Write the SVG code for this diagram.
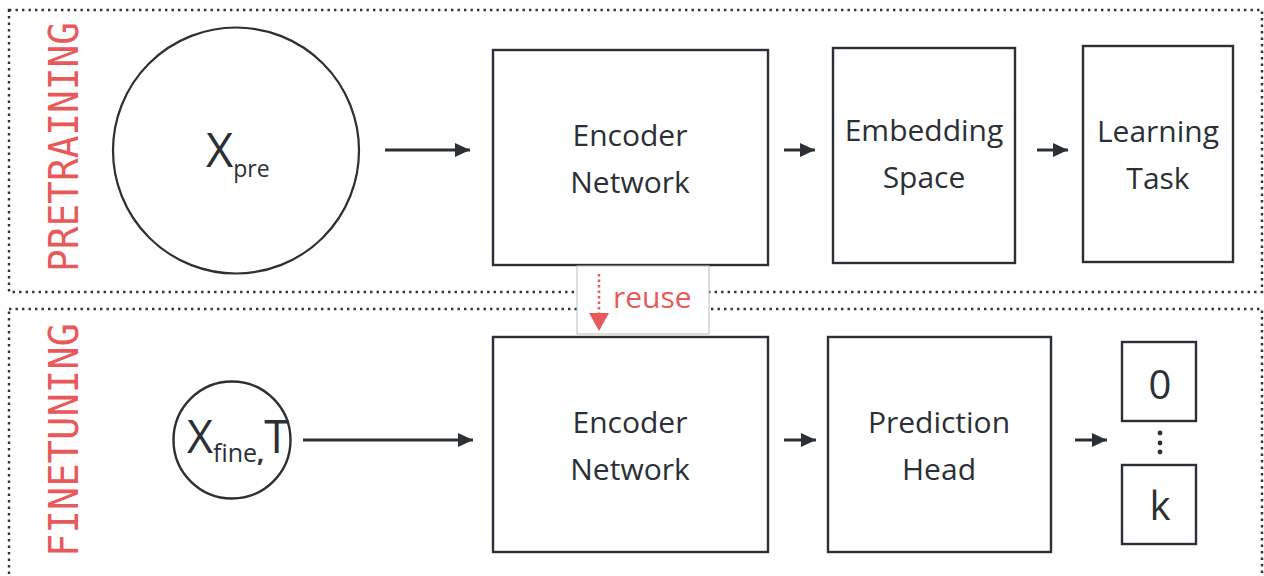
<svg xmlns="http://www.w3.org/2000/svg" width="1264" height="576" viewBox="0 0 1264 576">
<style>
.dot{fill:none;stroke:#333;stroke-width:2.4;stroke-dasharray:2.4 4.1}
.box{fill:#fff;stroke:#2b3036;stroke-width:2.4}
.t{font-family:"Open Sans","Noto Sans",sans-serif;font-size:30px;fill:#2b3036;text-anchor:middle}
.lbl{font-family:"DejaVu Sans Mono","Liberation Mono",monospace;font-size:40px;fill:#e85a5a}
.c{stroke:#2b3036;stroke-width:3;fill:none}
</style>
<defs>
<marker id="arr" markerWidth="18" markerHeight="16" refX="15" refY="8" orient="auto" markerUnits="userSpaceOnUse">
<path d="M0,1 L15,8 L0,15 z" fill="#2b3036"/>
</marker>
</defs>
<g id="sections">
<rect class="dot" x="9" y="10" width="1253" height="282"/>
<rect class="dot" x="9" y="309" width="1253" height="290"/>
<text class="lbl" transform="translate(78,272) rotate(-90)" textLength="250" lengthAdjust="spacingAndGlyphs">PRETRAINING</text>
<text class="lbl" transform="translate(78,557) rotate(-90)" textLength="234" lengthAdjust="spacingAndGlyphs">FINETUNING</text>
</g>
<g id="connectors">
<line class="c" x1="385" y1="150" x2="470" y2="150" marker-end="url(#arr)"/>
<line class="c" x1="784" y1="150" x2="815" y2="150" marker-end="url(#arr)"/>
<line class="c" x1="1037" y1="150" x2="1068" y2="150" marker-end="url(#arr)"/>
<line class="c" x1="303" y1="440" x2="473" y2="440" marker-end="url(#arr)"/>
<line class="c" x1="784" y1="440" x2="816" y2="440" marker-end="url(#arr)"/>
<line class="c" x1="1075" y1="440" x2="1107" y2="440" marker-end="url(#arr)"/>
</g>
<g id="xpre">
<circle cx="236" cy="150.5" r="123" fill="#fff" stroke="#2b3036" stroke-width="2.2"/>
<text x="206" y="167" font-family="Open Sans,sans-serif" font-size="47" fill="#2b3036">X<tspan font-size="23" dy="10">pre</tspan></text>
</g>
<g id="enc-pre">
<rect class="box" x="493" y="50" width="275" height="215"/>
<text class="t" x="630" y="146">Encoder</text>
<text class="t" x="630" y="193">Network</text>
</g>
<g id="embedding">
<rect class="box" x="833" y="48" width="182" height="215"/>
<text class="t" x="924" y="141">Embedding</text>
<text class="t" x="924" y="188">Space</text>
</g>
<g id="task">
<rect class="box" x="1083" y="46" width="150" height="216"/>
<text class="t" x="1158" y="142">Learning</text>
<text class="t" x="1158" y="189">Task</text>
</g>
<g id="reuse">
<rect x="577" y="266" width="132" height="68" fill="#fff" stroke="#bbb" stroke-width="1"/>
<line x1="599" y1="274" x2="599" y2="313" stroke="#e85a5a" stroke-width="2.5" stroke-dasharray="2.5 3"/>
<path d="M589,313 L609,313 L599,331 z" fill="#e85a5a"/>
<text x="613" y="308" font-family="Open Sans,sans-serif" font-size="30" fill="#e85a5a">reuse</text>
</g>
<g id="xfine">
<circle cx="232" cy="440" r="58.5" fill="#fff" stroke="#2b3036" stroke-width="2.4"/>
<text x="187" y="453" font-family="Open Sans,sans-serif" font-size="45" fill="#2b3036">X<tspan font-size="25" dy="9">fine</tspan><tspan font-size="25" font-weight="bold">,</tspan><tspan dy="-9" font-size="45">T</tspan></text>
</g>
<g id="enc-fine">
<rect class="box" x="493" y="337" width="275" height="215"/>
<text class="t" x="630" y="433">Encoder</text>
<text class="t" x="630" y="480">Network</text>
</g>
<g id="head">
<rect class="box" x="828" y="337" width="223" height="215"/>
<text class="t" x="939" y="433">Prediction</text>
<text class="t" x="939" y="480">Head</text>
</g>
<g id="outputs">
<rect class="box" x="1122" y="342" width="74" height="79"/>
<text class="t" x="1160" y="399" style="font-size:40px">0</text>
<circle cx="1160" cy="433" r="2.4" fill="#2b3036"/>
<circle cx="1160" cy="443" r="2.4" fill="#2b3036"/>
<circle cx="1160" cy="452" r="2.4" fill="#2b3036"/>
<rect class="box" x="1122" y="465" width="74" height="79"/>
<text class="t" x="1160" y="520" style="font-size:40px">k</text>
</g>
</svg>
